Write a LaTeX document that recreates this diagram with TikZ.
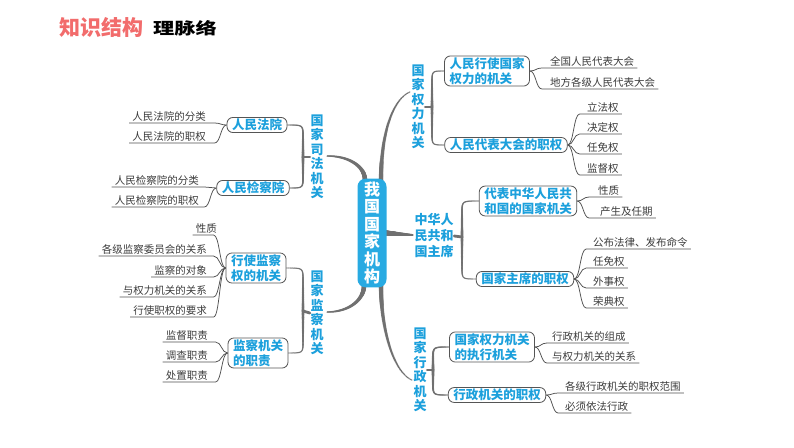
\documentclass[tikz,border=0pt]{standalone}
\usepackage{fontspec}
\setmainfont{Noto Sans CJK SC}
\usepackage{graphicx}
\usetikzlibrary{calc,decorations.markings}
\pgfdeclarelayer{background}
\pgfsetlayers{background,main}
\definecolor{tblue}{RGB}{28,160,220}
\definecolor{bxblue}{RGB}{40,170,226}
\definecolor{cline}{RGB}{112,112,112}
\definecolor{nline}{RGB}{85,85,85}
\definecolor{ltext}{RGB}{60,60,60}
\definecolor{lline}{RGB}{80,80,80}
\definecolor{salmon}{RGB}{242,108,108}
\tikzset{
  taper/.style={postaction={decorate,decoration={markings,mark=between positions 0 and 1 step 0.01 with {\pgfmathsetmacro\tw{#1*(0.3+0.7*\pgfkeysvalueof{/pgf/decoration/mark info/sequence number}/101)}\fill[cline] (0,0) circle (\tw pt);}}}},
  taper/.default=1.4,
  lvl1/.style={text=tblue, font=\fontsize{13}{14.5}\selectfont\bfseries, align=center, inner sep=0.5pt},
  lvl2/.style={draw=nline, line width=0.8pt, fill=white, rounded corners=6pt, text=tblue, font=\fontsize{12.5}{15}\selectfont\bfseries, align=left, inner xsep=5pt, inner ysep=1.5pt},
  leaf/.style={text=ltext, font=\fontsize{10.5}{12}\selectfont, inner xsep=3pt, inner ysep=1.5pt},
  leafline/.style={draw=lline, line width=0.75pt},
  cbox/.style={fill=bxblue, rounded corners=8pt, text=white, font=\fontsize{16}{17.5}\selectfont\bfseries, align=center, inner xsep=6.5pt, inner ysep=3pt},
  stub/.style={draw=cline, line width=2.8pt, line cap=round}
}
\newcommand\leafL[3]{\draw[leafline] (#1.south west) -- ($(#1.south west -| #3)+(-6,0)$) .. controls (#1.south west -| #3) and (#2.west -| #3) .. (#2.west);}
\newcommand\leafR[3]{\draw[leafline] (#1.south east) -- ($(#1.south east -| #3)+(6,0)$) .. controls (#1.south east -| #3) and (#2.east -| #3) .. (#2.east);}
\begin{document}
\begin{tikzpicture}[x=1pt,y=-1pt]
\begin{pgfonlayer}{background}
\fill[white] (0,0) rectangle (794,447);
\end{pgfonlayer}
\useasboundingbox (0,0) rectangle (794,447);

% title
\node[text=salmon, font=\fontsize{21}{24}\selectfont\bfseries, inner sep=0] (t1) at (101.5,27) {知识结构};
\node[font=\fontsize{17}{20}\selectfont\bfseries, inner sep=0] (t2) at (185,28) {\scalebox{1.25}[0.95]{理脉络}};

% center
\node[cbox] (cb) at (372,233) {我\\国\\国\\家\\机\\构};

% level 1
\node[lvl1] (sf) at (317,157) {国\\家\\司\\法\\机\\关};
\node[lvl1] (jc) at (317,313) {国\\家\\监\\察\\机\\关};
\node[lvl1] (ql) at (418,107) {国\\家\\权\\力\\机\\关};
\node[lvl1, font=\fontsize{13}{16}\selectfont\bfseries] (zs) at (434,236) {中华人\\民共和\\国主席};
\node[lvl1] (xzj) at (420,370) {国\\家\\行\\政\\机\\关};

% level 2
\node[lvl2] (fy) at (257,125) {人民法院};
\node[lvl2] (jcy) at (253,188) {人民检察院};
\node[lvl2] (xs) at (256,268) {行使监察\\权的机关};
\node[lvl2] (zz) at (258,353) {监察机关\\的职责};
\node[lvl2] (rm) at (487,71) {人民行使国家\\权力的机关};
\node[lvl2] (dh) at (506,145) {人民代表大会的职权};
\node[lvl2] (db) at (528,201) {代表中华人民共\\和国的国家机关};
\node[lvl2] (zx) at (525,279) {国家主席的职权};
\node[lvl2] (zh) at (492,347) {国家权力机关\\的执行机关};
\node[lvl2] (xz) at (497,395) {行政机关的职权};

% leaves left
\node[leaf, anchor=south east] (a1) at (209,123) {人民法院的分类};
\node[leaf, anchor=south east] (a2) at (209,143) {人民法院的职权};
\node[leaf, anchor=south east] (b1) at (202,187) {人民检察院的分类};
\node[leaf, anchor=south east] (b2) at (202,207) {人民检察院的职权};
\node[leaf, anchor=south east] (c1) at (220,235) {性质};
\node[leaf, anchor=south east] (c2) at (210,256) {各级监察委员会的关系};
\node[leaf, anchor=south east] (c3) at (210,277) {监察的对象};
\node[leaf, anchor=south east] (c4) at (210,297) {与权力机关的关系};
\node[leaf, anchor=south east] (c5) at (210,317) {行使职权的要求};
\node[leaf, anchor=south east] (d1) at (211,342) {监督职责};
\node[leaf, anchor=south east] (d2) at (211,362) {调查职责};
\node[leaf, anchor=south east] (d3) at (211,382) {处置职责};

% leaves right
\node[leaf, anchor=south west] (e1) at (547,68) {全国人民代表大会};
\node[leaf, anchor=south west] (e2) at (547,89) {地方各级人民代表大会};
\node[leaf, anchor=south west] (f1) at (584,114) {立法权};
\node[leaf, anchor=south west] (f2) at (584,134) {决定权};
\node[leaf, anchor=south west] (f3) at (584,154) {任免权};
\node[leaf, anchor=south west] (f4) at (584,175) {监督权};
\node[leaf, anchor=south west] (g1) at (595,197) {性质};
\node[leaf, anchor=south west] (g2) at (597,218) {产生及任期};
\node[leaf, anchor=south west] (h1) at (590,249) {公布法律、发布命令};
\node[leaf, anchor=south west] (h2) at (590,268) {任免权};
\node[leaf, anchor=south west] (h3) at (590,288) {外事权};
\node[leaf, anchor=south west] (h4) at (590,308) {荣典权};
\node[leaf, anchor=south west] (i1) at (549,343) {行政机关的组成};
\node[leaf, anchor=south west] (i2) at (549,363) {与权力机关的关系};
\node[leaf, anchor=south west] (j1) at (562,393) {各级行政机关的职权范围};
\node[leaf, anchor=south west] (j2) at (562,413) {必须依法行政};

% bracket coordinates
\coordinate (sfB) at (303,157);
\coordinate (jcB) at (303,311);
\coordinate (qlB) at (432,107);
\coordinate (zsB) at (462,237);
\coordinate (xzB) at (433,370);
\coordinate (fyL) at ($(fy.west)+(-6,0)$);
\coordinate (jcyL) at ($(jcy.west)+(-6,0)$);
\coordinate (xsL) at ($(xs.west)+(-6,0)$);
\coordinate (zzL) at ($(zz.west)+(-6,0)$);
\coordinate (rmR) at ($(rm.east)+(6,0)$);
\coordinate (dhR) at ($(dh.east)+(6,0)$);
\coordinate (dbR) at ($(db.east)+(6,0)$);
\coordinate (zxR) at ($(zx.east)+(6,0)$);
\coordinate (zhR) at ($(zh.east)+(6,0)$);
\coordinate (xzR) at ($(xz.east)+(6,0)$);

\begin{pgfonlayer}{background}
% main branches
\path[taper=2.3] ($(sf.east)+(3,-1)$) .. controls +(22,0) and +(0,-14) .. ($(cb.north)+(-7,2)$);
\path[taper=2.3] ($(jc.east)+(3,-1)$) .. controls +(22,0) and +(0,14) .. ($(cb.south)+(-8,-2)$);
\path[taper=2.3] ($(ql.west)+(-1,-15)$) .. controls +(-18,8) and +(0,-45) .. ($(cb.north)+(9,2)$);
\path[taper=2.3] ($(xzj.west)+(-1,10)$) .. controls +(-18,-8) and +(0,45) .. ($(cb.south)+(9,-2)$);
\path[taper=2.8] ($(zs.west)+(-1,-1)$) -- ($(cb.east)+(-2,0)$);

% level-1 brackets
\path[taper] (fy.east) .. controls (fy.east -| sfB) .. ($(fy.east -| sfB)+(0,12)$) -- (sfB);
\path[taper] (jcy.east) .. controls (jcy.east -| sfB) .. ($(jcy.east -| sfB)+(0,-12)$) -- (sfB);
\draw[stub] (sf.west) -- (sfB);
\path[taper] (xs.east) .. controls (xs.east -| jcB) .. ($(xs.east -| jcB)+(0,12)$) -- (jcB);
\path[taper] (zz.east) .. controls (zz.east -| jcB) .. ($(zz.east -| jcB)+(0,-12)$) -- (jcB);
\draw[stub] (jc.west) -- (jcB);
\path[taper] (rm.west) .. controls (rm.west -| qlB) .. ($(rm.west -| qlB)+(0,12)$) -- (qlB);
\path[taper] (dh.west) .. controls (dh.west -| qlB) .. ($(dh.west -| qlB)+(0,-12)$) -- (qlB);
\draw[stub] (ql.east) -- (qlB);
\path[taper] (db.west) .. controls (db.west -| zsB) .. ($(db.west -| zsB)+(0,12)$) -- (zsB);
\path[taper] (zx.west) .. controls (zx.west -| zsB) .. ($(zx.west -| zsB)+(0,-12)$) -- (zsB);
\draw[stub] (zs.east) -- (zsB);
\path[taper] (zh.west) .. controls (zh.west -| xzB) .. ($(zh.west -| xzB)+(0,12)$) -- (xzB);
\path[taper] (xz.west) .. controls (xz.west -| xzB) .. ($(xz.west -| xzB)+(0,-12)$) -- (xzB);
\draw[stub] (xzj.east) -- (xzB);

% leaf lines
\leafL{a1}{fy}{fyL}
\leafL{a2}{fy}{fyL}
\leafL{b1}{jcy}{jcyL}
\leafL{b2}{jcy}{jcyL}
\leafL{c1}{xs}{xsL}
\leafL{c2}{xs}{xsL}
\leafL{c3}{xs}{xsL}
\leafL{c4}{xs}{xsL}
\leafL{c5}{xs}{xsL}
\leafL{d1}{zz}{zzL}
\leafL{d2}{zz}{zzL}
\leafL{d3}{zz}{zzL}
\leafR{e1}{rm}{rmR}
\leafR{e2}{rm}{rmR}
\leafR{f1}{dh}{dhR}
\leafR{f2}{dh}{dhR}
\leafR{f3}{dh}{dhR}
\leafR{f4}{dh}{dhR}
\leafR{g1}{db}{dbR}
\leafR{g2}{db}{dbR}
\leafR{h1}{zx}{zxR}
\leafR{h2}{zx}{zxR}
\leafR{h3}{zx}{zxR}
\leafR{h4}{zx}{zxR}
\leafR{i1}{zh}{zhR}
\leafR{i2}{zh}{zhR}
\leafR{j1}{xz}{xzR}
\leafR{j2}{xz}{xzR}
\end{pgfonlayer}
\end{tikzpicture}
\end{document}
